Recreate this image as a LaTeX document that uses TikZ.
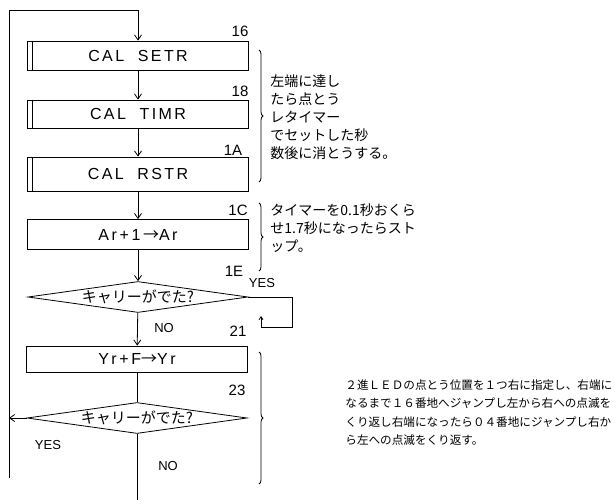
\documentclass[tikz,border=0pt]{standalone}
\usepackage{fontspec}
\setmainfont{Liberation Sans}
\newfontfamily\jp{Noto Sans CJK JP}
\newfontfamily\boxfont[LetterSpace=15]{Liberation Sans}
\usetikzlibrary{positioning,arrows.meta,shapes.geometric,decorations.pathreplacing}
\begin{document}
\begin{tikzpicture}[x=1pt,y=-1pt,line width=0.8pt,
  >={Straight Barb[length=5pt,width=7pt]},
  proc/.style={draw,minimum width=221pt,inner sep=0pt,font=\boxfont\fontsize{16}{16}\selectfont},
  test/.style={draw,diamond,shape aspect=7,inner sep=0pt,minimum width=220pt,minimum height=31pt,font=\jp\fontsize{15}{15}\selectfont},
  addr/.style={inner sep=0pt,font=\fontsize{15}{15}\selectfont},
  yn/.style={inner sep=0pt,font=\fontsize{13}{13}\selectfont},
  note/.style={anchor=north west,align=left,inner sep=0pt,font=\jp\fontsize{14}{18}\selectfont},
  cbrace/.style={decorate,decoration={brace,amplitude=4pt}}]
\useasboundingbox (0,0) rectangle (615,503);
% ---- processing boxes down the middle, x=138 ----
\node[proc,minimum height=29pt] (setr) at (138,55.5) {CAL\ \ SETR};
\node[proc,minimum height=28pt] (timr) at (138,114) {CAL\ \ TIMR};
\node[proc,minimum height=34pt] (rstr) at (138,174) {CAL\ \ RSTR};
\node[proc,minimum height=30pt] (ar) at (138,234.5) {Ar\,+\,1\,{\jp →}Ar};
\node[test] (chk1) at (138,297) {キャリーがでた?};
\node[proc,minimum height=26pt] (yr) at (137,359) {Yr\,+\,F{\jp →}Yr};
\node[test] (chk2) at (137,418) {キャリーがでた?};
% ---- subroutine marks ----
\foreach \n in {setr,timr,rstr}
  \draw ([xshift=5pt]\n.north west) -- ([xshift=5pt]\n.south west);
% ---- addresses ----
\node[addr] (a16) at (240,31) {16};
\node[addr] (a18) at (240,91) {18};
\node[addr] (a1A) at (233,150) {1A};
\node[addr] (a1C) at (238,210) {1C};
\node[addr] (a1E) at (234,271) {1E};
\node[addr] (a21) at (238,331) {21};
\node[addr] (a23) at (237,390) {23};
% ---- YES / NO ----
\node[yn] (y1) at (262,283) {YES};
\node[yn] (n1) at (164,328) {NO};
\node[yn] (y2) at (48,445) {YES};
\node[yn] (n2) at (168,466) {NO};
% ---- flow lines ----
\coordinate (top) at (138,10);
\coordinate (bl) at (9,478);
\coordinate (out) at (137,500);
\coordinate (back) at (261,316);
\draw (bl) |- (top);
\draw[->] (top) -- (setr);
\draw[->] (setr) -- (timr);
\draw[->] (timr) -- (rstr);
\draw[->] (rstr) -- (ar);
\draw[->] (ar) -- (chk1);
\draw[->] (chk1) -- (yr);
\draw (yr) -- (chk2);
\draw (chk2) -- (out);
\draw[->] (chk2.west) -- (chk2.west -| bl);
\draw[-{Straight Barb[length=3pt,width=4pt]}] (chk1.east) -| (292,327) -| (back);
% ---- braces and notes ----
\draw[cbrace] (259,50) -- (259,182);
\draw[cbrace] (259,203) -- (259,271);
\draw[cbrace] (259,352) -- (259,484);
\node[note] (t1) at (270,74) {左端に達し\\たら点とう\\レタイマー\\でセットした秒\\数後に消とうする。};
\node[note] (t2) at (270,203) {タイマーを0.1秒おくら\\せ1.7秒になったらスト\\ップ。};
\node[note,font=\jp\fontsize{11.6}{18.5}\selectfont] (t3) at (345,379)
  {２進ＬＥＤの点とう位置を１つ右に指定し、右端に\\なるまで１６番地へジャンプし左から右への点滅を\\くり返し右端になったら０４番地にジャンプし右か\\ら左への点滅をくり返す。};
\end{tikzpicture}
\end{document}
